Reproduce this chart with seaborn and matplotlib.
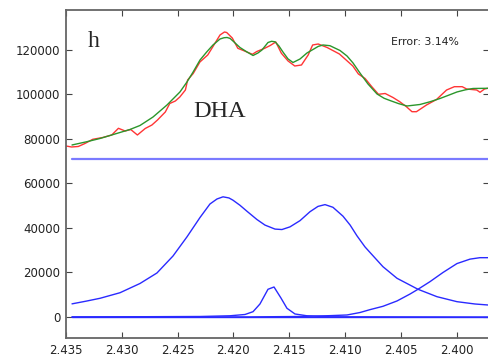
import numpy as np
import pandas as pd
import matplotlib
matplotlib.use("Agg")
import matplotlib.pyplot as plt
import seaborn as sns

# ---------------- data ----------------
red_x = [2.4350, 2.4345, 2.4339, 2.4333, 2.4326, 2.4317, 2.4309, 2.4303, 2.4297, 2.4292,
         2.4286, 2.4279, 2.4273, 2.4268, 2.4261, 2.4257, 2.4252, 2.4248, 2.4243, 2.4241,
         2.4236, 2.4230, 2.4223, 2.4218, 2.4212, 2.4208, 2.4206, 2.4201, 2.4196, 2.4190,
         2.4183, 2.4179, 2.4172, 2.4167, 2.4162, 2.4157, 2.4151, 2.4145, 2.4139, 2.4133,
         2.4129, 2.4124, 2.4116, 2.4105, 2.4099, 2.4093, 2.4088, 2.4082, 2.4076, 2.4070,
         2.4064, 2.4057, 2.4051, 2.4045, 2.4040, 2.4036, 2.4027, 2.4018, 2.4009, 2.4002,
         2.3995, 2.3991, 2.3982, 2.3979, 2.3975, 2.3972]
red_y = [76850, 76400, 76620, 77970, 79860, 80670, 81790, 84800, 83590, 84260,
         81790, 84710, 86280, 88530, 92130, 95950, 97070, 98870, 102010, 106510,
         109430, 114600, 117740, 121790, 126730, 128080, 127850, 125380, 120750, 119540,
         118060, 119320, 120750, 122010, 123590, 118510, 115050, 112800, 113250, 117740,
         122240, 122690, 121110, 118190, 115500, 112800, 109200, 107180, 103500, 100080,
         100440, 98640, 96760, 94510, 92260, 92260, 95270, 97740, 102010, 103500,
         103500, 102460, 102010, 100980, 102460, 102780]

green_x = [2.43446, 2.43312, 2.43195, 2.43061, 2.42927, 2.42837, 2.42720, 2.42595, 2.42479, 2.42416,
           2.42362, 2.42299, 2.42237, 2.42183, 2.42120, 2.42084, 2.42057, 2.42030, 2.42004, 2.41941,
           2.41878, 2.41824, 2.41780, 2.41744, 2.41690, 2.41658, 2.41627, 2.41592, 2.41556, 2.41511,
           2.41466, 2.41403, 2.41341, 2.41287, 2.41240, 2.41197, 2.41135, 2.41045, 2.40982, 2.40928,
           2.40866, 2.40794, 2.40713, 2.40650, 2.40597, 2.40520, 2.40445, 2.40328, 2.40240, 2.40149,
           2.40070, 2.39997, 2.39920, 2.39853, 2.39719]
green_y = [77300, 78780, 80220, 82240, 84260, 86060, 89880, 95270, 101120, 105610,
           110000, 115500, 119230, 122240, 124930, 125500, 125610, 125200, 124030, 121110,
           119090, 117520, 118640, 119990, 123360, 123900, 123680, 121790, 119090, 116000,
           114370, 115950, 118640, 120210, 121600, 122240, 121920, 119770, 117290, 114150,
           109650, 104710, 100220, 98300, 97290, 95900, 94820, 95500, 96700, 98190,
           99700, 101120, 102100, 102690, 102780]

doublet_x = [2.43446, 2.43321, 2.43195, 2.43016, 2.42837, 2.42685, 2.42541, 2.42416, 2.42299, 2.42210,
             2.42147, 2.42093, 2.42040, 2.42004, 2.41941, 2.41878, 2.41789, 2.41717, 2.41627, 2.41565,
             2.41493, 2.41403, 2.41314, 2.41242, 2.41179, 2.41108, 2.41018, 2.40954, 2.40893, 2.40821,
             2.40776, 2.40660, 2.40534, 2.40346, 2.40176, 2.39997, 2.39836, 2.39719]
doublet_y = [5900, 7100, 8400, 10900, 15050, 19770, 27410, 36000, 44720, 50780,
             53030, 54000, 53500, 52500, 50200, 47500, 43800, 41300, 39500, 39300,
             40500, 43300, 47300, 49700, 50500, 49300, 45300, 41300, 36500, 31500,
             29000, 22600, 17390, 12450, 9120, 6880, 5840, 5390]

narrow_x = [2.43446, 2.42299, 2.42031, 2.41896, 2.41824, 2.41762, 2.41690, 2.41636, 2.41574,
            2.41520, 2.41448, 2.41341, 2.41135, 2.39719]
narrow_y = [0, 220, 540, 1120, 2380, 5840, 12450, 13480, 8540, 3910, 1350, 540, 100, 0]

rising_x = [2.43446, 2.41851, 2.41403, 2.41135, 2.40982, 2.40866, 2.40776, 2.40660, 2.40534,
            2.40418, 2.40346, 2.40239, 2.40122, 2.39997, 2.39880, 2.39791, 2.39719]
rising_y = [0, 45, 225, 600, 900, 2000, 3300, 4800, 7200, 10300, 12450, 15860, 20000,
            24000, 26000, 26650, 26650]

fit_range = [2.43446, 2.39719]
offset_level = 71200
baseline_level = 0

x_ticks = [2.435, 2.430, 2.425, 2.420, 2.415, 2.410, 2.405, 2.400]
x_tick_labels = ["2.435", "2.430", "2.425", "2.420", "2.415", "2.410", "2.405", "2.400"]
y_ticks = [0, 20000, 40000, 60000, 80000, 100000, 120000]
y_tick_labels = ["0", "20000", "40000", "60000", "80000", "100000", "120000"]

# ---------------- plot ----------------
sns.set_style("ticks")
plt.rcParams["font.family"] = ["DejaVu Sans"]

fig = plt.figure(figsize=(4.88, 3.58), dpi=100)
ax = fig.add_axes([0.1352, 0.0559, 0.8668, 0.9162])

blue = "#2a2aff"
kw = dict(ax=ax, sort=False, estimator=None, linewidth=1.0)

sns.lineplot(x=fit_range, y=[offset_level] * len(fit_range), color="#7a7aff", **{**kw, "linewidth": 1.6})
sns.lineplot(x=fit_range, y=[baseline_level] * len(fit_range), color=blue, **kw)
sns.lineplot(x=doublet_x, y=doublet_y, color=blue, **kw)
sns.lineplot(x=narrow_x, y=narrow_y, color=blue, **kw)
sns.lineplot(x=rising_x, y=rising_y, color=blue, **kw)
sns.lineplot(x=red_x, y=red_y, color="#ff3535", **kw)
sns.lineplot(x=green_x, y=green_y, color="#2b962b", **kw)

ax.set_xlim(2.435, 2.3971)
ax.set_ylim(-9440, 137970)
ax.set_xticks(x_ticks)
ax.set_xticklabels(x_tick_labels)
ax.set_yticks(y_ticks)
ax.set_yticklabels(y_tick_labels)
ax.set_xlabel("")
ax.set_ylabel("")

ax.tick_params(direction="in", top=True, right=True, length=4, width=0.8,
               labelsize=8.5, labelcolor="#222222", color="#444444", pad=4)
for side in ["left", "right", "top", "bottom"]:
    ax.spines[side].set_visible(True)
    ax.spines[side].set_color("#666666")
    ax.spines[side].set_linewidth(1.3)

ax.text(2.43303, 121340, "h", family="Liberation Serif", fontsize=17, va="baseline", ha="left")
ax.text(2.42362, 89750, "DHA", family="Liberation Serif", fontsize=17.5, va="baseline", ha="left")
ax.text(2.40591, 123590, "Error: 3.14%", fontsize=7.8, va="center", ha="left", color="#222222")

fig.savefig("out.png", dpi=100)
